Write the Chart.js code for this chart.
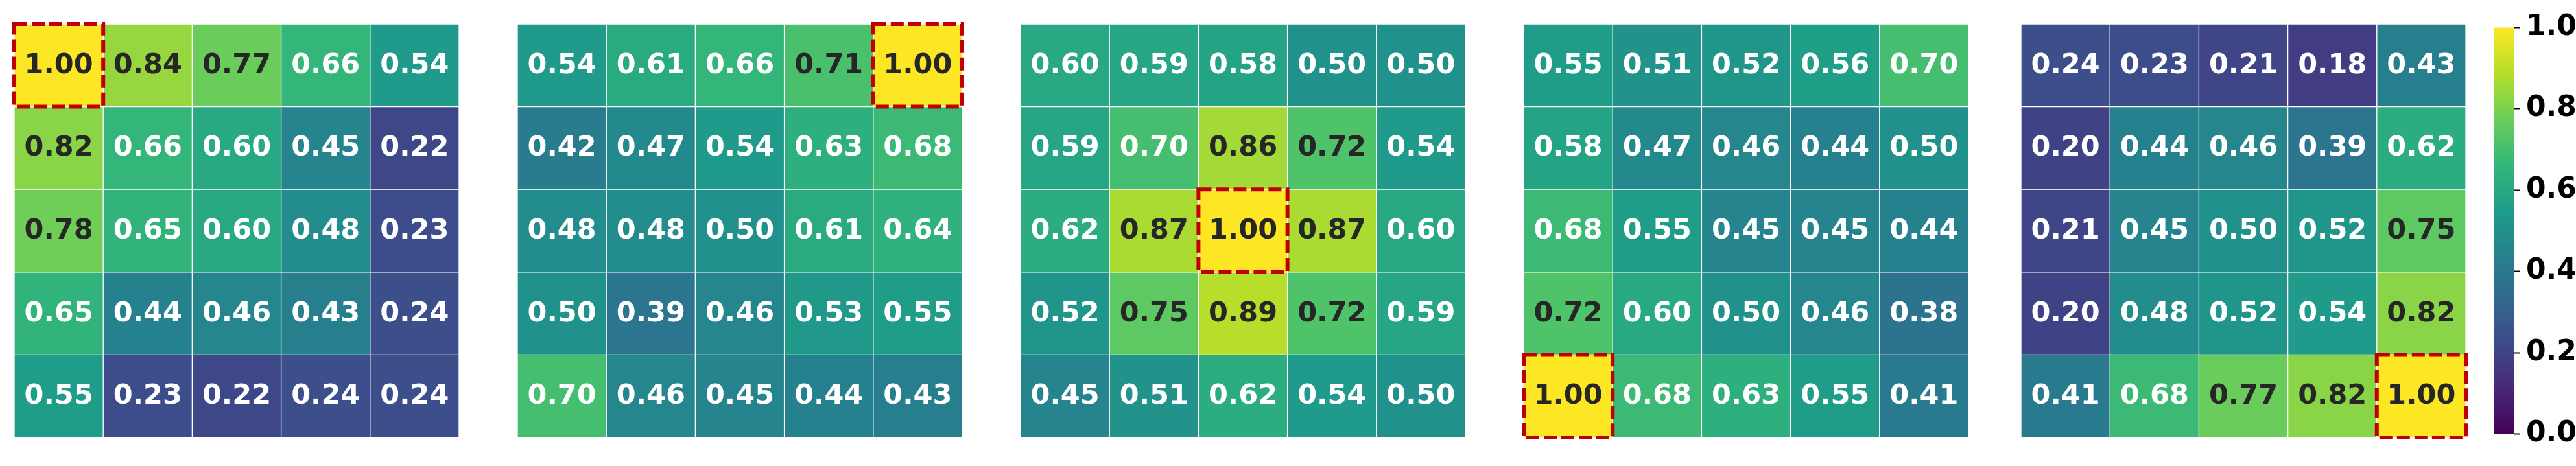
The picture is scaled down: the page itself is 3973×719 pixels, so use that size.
<!DOCTYPE html>
<html>
<head>
<meta charset="utf-8">
<script src="https://cdn.jsdelivr.net/npm/chart.js@4.4.1/dist/chart.umd.min.js"></script>
<style>
  html, body { margin: 0; padding: 0; background: #fff; overflow: hidden; }
  #wrap { position: relative; width: 3973px; height: 719px; }
  canvas { position: absolute; }
</style>
</head>
<body>
<div id="wrap">
  <canvas id="hm0"></canvas>
  <canvas id="hm1"></canvas>
  <canvas id="hm2"></canvas>
  <canvas id="hm3"></canvas>
  <canvas id="hm4"></canvas>
  <canvas id="cbar"></canvas>
</div>
<script>
// data
const cols = ["c0", "c1", "c2", "c3", "c4"];
const rows = [0, 1, 2, 3, 4];

const panel1 = [
  [1.00, 0.84, 0.77, 0.66, 0.54],
  [0.82, 0.66, 0.60, 0.45, 0.22],
  [0.78, 0.65, 0.60, 0.48, 0.23],
  [0.65, 0.44, 0.46, 0.43, 0.24],
  [0.55, 0.23, 0.22, 0.24, 0.24],
];
const panel2 = [
  [0.54, 0.61, 0.66, 0.71, 1.00],
  [0.42, 0.47, 0.54, 0.63, 0.68],
  [0.48, 0.48, 0.50, 0.61, 0.64],
  [0.50, 0.39, 0.46, 0.53, 0.55],
  [0.70, 0.46, 0.45, 0.44, 0.43],
];
const panel3 = [
  [0.60, 0.59, 0.58, 0.50, 0.50],
  [0.59, 0.70, 0.86, 0.72, 0.54],
  [0.62, 0.87, 1.00, 0.87, 0.60],
  [0.52, 0.75, 0.89, 0.72, 0.59],
  [0.45, 0.51, 0.62, 0.54, 0.50],
];
const panel4 = [
  [0.55, 0.51, 0.52, 0.56, 0.70],
  [0.58, 0.47, 0.46, 0.44, 0.50],
  [0.68, 0.55, 0.45, 0.45, 0.44],
  [0.72, 0.60, 0.50, 0.46, 0.38],
  [1.00, 0.68, 0.63, 0.55, 0.41],
];
const panel5 = [
  [0.24, 0.23, 0.21, 0.18, 0.43],
  [0.20, 0.44, 0.46, 0.39, 0.62],
  [0.21, 0.45, 0.50, 0.52, 0.75],
  [0.20, 0.48, 0.52, 0.54, 0.82],
  [0.41, 0.68, 0.77, 0.82, 1.00],
];
const panels = [panel1, panel2, panel3, panel4, panel5];
// [row, col] of the boxed cell in each panel
const highlights = [[0, 0], [0, 4], [2, 2], [4, 0], [4, 4]];
const cbarTicks = [0.0, 0.2, 0.4, 0.6, 0.8, 1.0];

// viridis
const viridisStops = [
  [0.0, "#440154"], [1 / 9, "#482878"], [2 / 9, "#3e4989"], [0.25, "#3b528b"],
  [3 / 9, "#31688e"], [4 / 9, "#26828e"], [0.5, "#21918c"], [5 / 9, "#1f9e89"],
  [6 / 9, "#35b779"], [0.75, "#5ec962"], [7 / 9, "#6ece58"], [8 / 9, "#b5de2b"],
  [1.0, "#fde725"],
];
function hexRgb(h) {
  return [1, 3, 5].map(i => parseInt(h.slice(i, i + 2), 16));
}
function viridis(v) {
  for (let i = 1; i < viridisStops.length; i++) {
    const [t1, c1] = viridisStops[i];
    if (v <= t1) {
      const [t0, c0] = viridisStops[i - 1];
      const f = (v - t0) / (t1 - t0);
      const a = hexRgb(c0), b = hexRgb(c1);
      const m = a.map((x, k) => Math.round(x + (b[k] - x) * f));
      return `rgb(${m[0]},${m[1]},${m[2]})`;
    }
  }
  return viridisStops[viridisStops.length - 1][1];
}

// layout
const PAD = 6;
const lefts = [22, 798, 1574, 2350, 3117];
const TOP = 37, W = 686, H = 638;

const cellText = {
  id: "cellText",
  afterDatasetsDraw(chart) {
    const ctx = chart.ctx;
    ctx.save();
    ctx.font = 'bold 43px "DejaVu Sans"';
    ctx.textAlign = "center";
    ctx.textBaseline = "alphabetic";
    chart.data.datasets.forEach((ds, i) => {
      chart.getDatasetMeta(i).data.forEach((bar, j) => {
        const v = ds.values[j];
        const p = bar.getCenterPoint();
        ctx.fillStyle = v > 0.705 ? "#262626" : "#ffffff";
        ctx.fillText(v.toFixed(2), p.x, p.y + 12);
      });
    });
    ctx.restore();
  },
};

function boxPlugin(cell) {
  return {
    id: "box",
    afterDraw(chart) {
      const [r, c] = cell;
      const bar = chart.getDatasetMeta(r).data[c];
      const { x, y, base, width } = bar.getProps(["x", "y", "base", "width"]);
      const ctx = chart.ctx;
      ctx.save();
      ctx.strokeStyle = "#c00000";
      ctx.lineWidth = 6;
      ctx.setLineDash([20, 7]);
      ctx.strokeRect(x - width / 2, Math.min(y, base), width, Math.abs(base - y));
      ctx.restore();
    },
  };
}

panels.forEach((panel, k) => {
  const cv = document.getElementById("hm" + k);
  cv.width = W + 2 * PAD;
  cv.height = H + 2 * PAD;
  cv.style.left = (lefts[k] - PAD) + "px";
  cv.style.top = (TOP - PAD) + "px";
  new Chart(cv, {
    type: "bar",
    data: {
      labels: cols,
      datasets: rows.map(r => ({
        data: cols.map(() => [r, r + 1]),
        values: panel[r],
        backgroundColor: panel[r].map(viridis),
        borderColor: "#ffffff",
        borderWidth: 1,
        borderSkipped: false,
        grouped: false,
        barPercentage: 1,
        categoryPercentage: 1,
      })),
    },
    options: {
      responsive: false,
      animation: false,
      events: [],
      layout: { padding: PAD },
      plugins: { legend: { display: false }, tooltip: { enabled: false } },
      scales: {
        x: { display: false },
        y: { display: false, min: 0, max: 5, reverse: true },
      },
    },
    plugins: [cellText, boxPlugin(highlights[k])],
  });
});

// colorbar
const cb = document.getElementById("cbar");
const CB_LEFT = 3847, CB_W = 31, CB_PAD = 30;
cb.width = 3973 - CB_LEFT;
cb.height = H + 2 * CB_PAD;
cb.style.left = CB_LEFT + "px";
cb.style.top = (TOP - CB_PAD) + "px";
new Chart(cb, {
  type: "bar",
  data: {
    labels: ["cbar"],
    datasets: [{
      data: [[0, 1]],
      backgroundColor: (c) => {
        const area = c.chart.chartArea;
        if (!area) return viridis(0.5);
        const g = c.chart.ctx.createLinearGradient(0, area.bottom, 0, area.top);
        viridisStops.forEach(([t, col]) => g.addColorStop(t, col));
        return g;
      },
      borderWidth: 0,
      barPercentage: 1,
      categoryPercentage: 1,
    }],
  },
  options: {
    responsive: false,
    animation: false,
    events: [],
    layout: { padding: { top: CB_PAD, bottom: CB_PAD, left: 0, right: 0 } },
    plugins: { legend: { display: false }, tooltip: { enabled: false } },
    scales: {
      x: { display: false },
      y: {
        position: "right",
        min: 0,
        max: 1,
        afterBuildTicks: (s) => { s.ticks = cbarTicks.map(v => ({ value: v })); },
        afterFit: (s) => { s.width = (3973 - CB_LEFT) - CB_W; },
        ticks: {
          padding: 9,
          color: "#000000",
          font: { family: "DejaVu Sans", weight: "bold", size: 44 },
          callback: (v) => Number(v).toFixed(1),
        },
        grid: {
          drawOnChartArea: false,
          drawTicks: true,
          tickLength: 9,
          tickWidth: 2,
          tickColor: "#000000",
        },
        border: { display: false },
      },
    },
  },
});
</script>
</body>
</html>
